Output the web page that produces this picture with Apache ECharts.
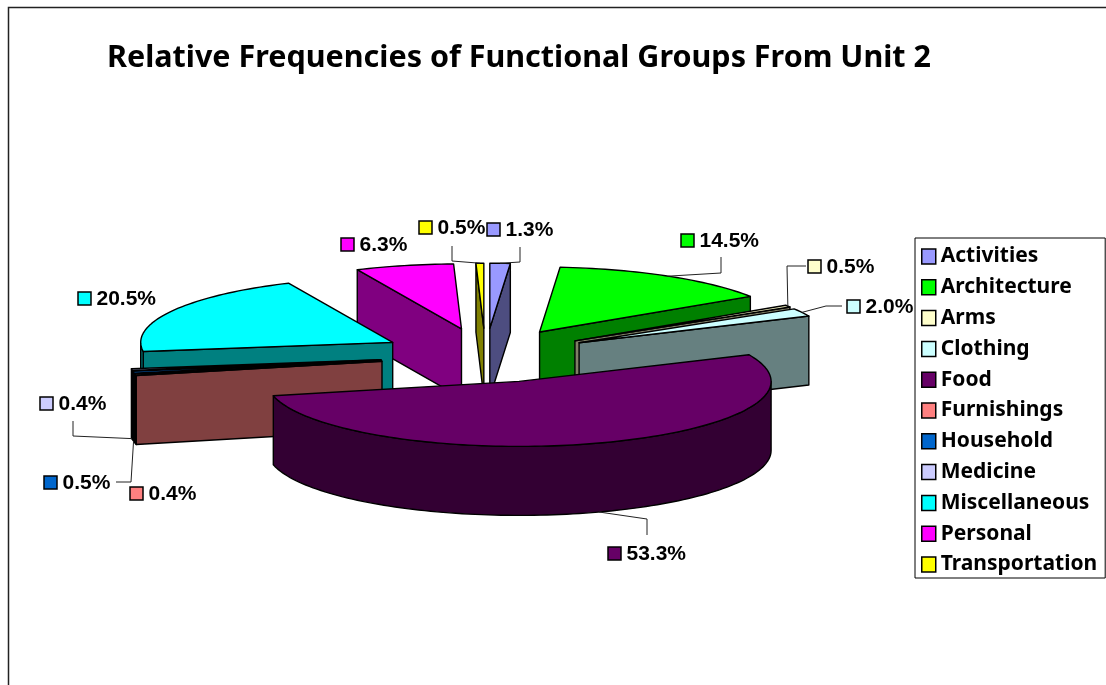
<!DOCTYPE html>
<html>
<head>
<meta charset="utf-8">
<style>html,body{margin:0;padding:0;background:#fff}#chart{width:1106px;height:685px}</style>
<script src="https://cdn.jsdelivr.net/npm/echarts@6/dist/echarts.min.js"></script>
</head>
<body>
<div id="chart"></div>
<script>
// Functional groups of Unit 2, in legend order
const categories = ['Activities', 'Architecture', 'Arms', 'Clothing', 'Food', 'Furnishings',
  'Household', 'Medicine', 'Miscellaneous', 'Personal', 'Transportation'];
const shares = [1.3, 14.5, 0.5, 2.0, 53.3, 0.4, 0.5, 0.4, 20.5, 6.3, 0.5];
const colors = ['#9999FF', '#00FF00', '#FFFFCC', '#CCFFFF', '#660066', '#FF8080',
  '#0066CC', '#CCCCFF', '#00FFFF', '#FF00FF', '#FFFF00'];

// Top-left corner of each value label's colour key
const labelKeys = [[487, 223], [681, 234], [808, 260], [847, 300], [608, 547], [130, 487],
  [44, 476], [40, 397], [78, 292], [341, 238], [419, 221]];
// Leader line bends, running from the label towards its slice
const leaderBends = [
  [[520, 247], [520, 262]],
  [[721, 257], [721, 273]],
  [[806, 266], [787, 266]],
  [[842, 306], [826, 306]],
  [[647, 535], [647, 519]],
  [],
  [[116, 482], [131, 482]],
  [[73, 421], [73, 436]],
  [],
  [],
  [[452, 246], [452, 261]]
];

// Oblique projection of the exploded pie
const PIE = { cx: 485.5, cy: 355.5, rx: 252, ry: 65, depth: 69, explode: 0.42 };
const LINE = { stroke: '#000', lineWidth: 1.4, lineJoin: 'round' };
const rad = d => d * Math.PI / 180;
const total = shares.reduce((a, b) => a + b, 0);

function halfShade(hex) {
  const n = parseInt(hex.slice(1), 16);
  const c = s => Math.round(((n >> s) & 255) / 2).toString(16).padStart(2, '0');
  return '#' + c(16) + c(8) + c(0);
}

// Angles run clockwise from twelve o'clock; each slice is pushed out along its bisector
let running = 0;
const slices = shares.map((v, i) => {
  const a = running / total * 360;
  running += v;
  const b = running / total * 360;
  const mid = (a + b) / 2;
  return {
    i, a, b, mid,
    ax: PIE.cx + PIE.explode * PIE.rx * Math.sin(rad(mid)),
    ay: PIE.cy - PIE.explode * PIE.ry * Math.cos(rad(mid))
  };
});

const rim = (s, deg, drop) => [
  s.ax + PIE.rx * Math.sin(rad(deg)),
  s.ay - PIE.ry * Math.cos(rad(deg)) + (drop || 0)
];
const arc = (s, from, to, drop) => {
  const pts = [];
  const n = Math.max(2, Math.ceil((to - from) / 1.5));
  for (let k = 0; k <= n; k++) pts.push(rim(s, from + (to - from) * k / n, drop));
  return pts;
};

function sliceShapes(s) {
  const color = colors[s.i], dark = halfShade(color), d = PIE.depth;
  const apex = [s.ax, s.ay], apexLow = [s.ax, s.ay + d];
  const poly = (points, fill) => ({
    type: 'polygon', shape: { points }, style: Object.assign({ fill }, LINE)
  });
  const parts = [];
  const cutWall = deg => poly([apex, rim(s, deg), rim(s, deg, d), apexLow], dark);
  // Cut faces show only when they turn towards the viewer
  if (Math.sin(rad(s.a)) < 0) parts.push(cutWall(s.a));
  if (Math.sin(rad(s.b)) > 0.001) parts.push(cutWall(s.b));
  const from = Math.max(s.a, 90), to = Math.min(s.b, 270);
  if (to > from) {
    parts.push(poly(arc(s, from, to).concat(arc(s, from, to, d).reverse()), dark));
  }
  parts.push(poly([apex].concat(arc(s, s.a, s.b)), color));
  return parts;
}

function labelShapes(i) {
  const s = slices[i], key = labelKeys[i], bends = leaderBends[i];
  const parts = [];
  if (bends.length) {
    const drop = Math.cos(rad(s.mid)) < 0 ? PIE.depth : 0;
    parts.push({
      type: 'polyline',
      shape: { points: bends.concat([rim(s, s.mid, drop)]) },
      style: { fill: 'none', stroke: '#222', lineWidth: 1 }
    });
  }
  parts.push({
    type: 'rect',
    shape: { x: key[0], y: key[1], width: 13, height: 13 },
    style: { fill: colors[i], stroke: '#000', lineWidth: 1.5 }
  });
  parts.push({
    type: 'text',
    style: {
      x: key[0] + 18.5, y: key[1] + 7,
      text: shares[i].toFixed(1) + '%',
      fill: '#000',
      font: 'bold 21px "Liberation Sans"',
      textAlign: 'left', textVerticalAlign: 'middle'
    }
  });
  return parts;
}

// Back slices paint first, so nearer slices overlap them
const depthRank = slices.slice().sort((p, q) => p.ay - q.ay).map(s => s.i);

const sliceSeries = slices.map(s => ({
  type: 'custom',
  name: categories[s.i],
  coordinateSystem: 'none',
  z: 2 + depthRank.indexOf(s.i),
  silent: true,
  itemStyle: { color: colors[s.i] },
  data: [[shares[s.i]]],
  renderItem: () => ({ type: 'group', children: sliceShapes(s) })
}));

const labelSeries = {
  type: 'custom',
  name: 'value labels',
  coordinateSystem: 'none',
  z: 40,
  silent: true,
  data: shares.map((v, i) => [i, v]),
  renderItem: (params, api) => ({ type: 'group', children: labelShapes(api.value(0)) })
};

const chart = echarts.init(document.getElementById('chart'), null, { renderer: 'canvas' });
chart.setOption({
  animation: false,
  backgroundColor: '#fff',
  title: {
    text: 'Relative Frequencies of Functional Groups From Unit 2',
    left: 107, top: 43, padding: 0,
    textStyle: { fontFamily: '"Noto Sans"', fontWeight: 'bold', fontSize: 30.5, color: '#000' }
  },
  legend: {
    orient: 'vertical',
    left: 915, top: 238,
    padding: [8, 8, 3, 6],
    icon: 'rect',
    itemWidth: 14, itemHeight: 15, itemGap: 9.8,
    selectedMode: false,
    backgroundColor: '#fff',
    borderColor: '#000', borderWidth: 1,
    itemStyle: { borderColor: '#000', borderWidth: 1.5 },
    textStyle: { fontFamily: '"Noto Sans"', fontWeight: 'bold', fontSize: 21, color: '#000' },
    data: categories
  },
  graphic: [{
    type: 'polyline',
    silent: true,
    shape: { points: [[8.5, 685], [8.5, 7.5], [1106, 7.5]] },
    style: { fill: 'none', stroke: '#222', lineWidth: 1.5 }
  }],
  series: sliceSeries.concat([labelSeries])
});
</script>
</body>
</html>
